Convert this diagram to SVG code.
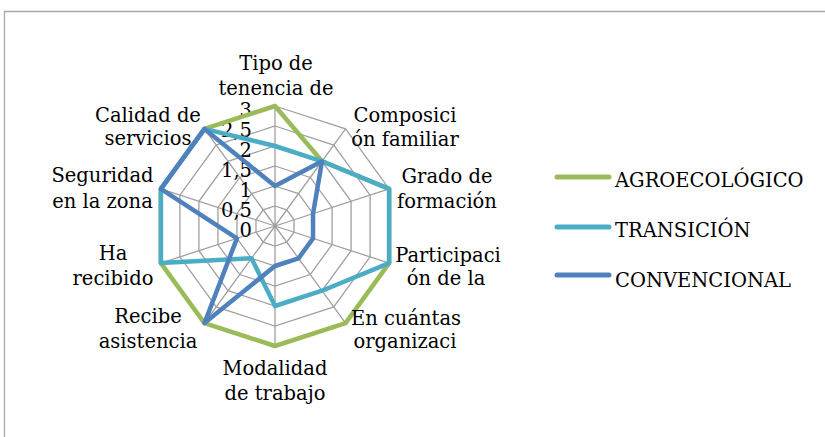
<svg xmlns="http://www.w3.org/2000/svg" width="825" height="437" viewBox="0 0 825 437">
  <style>
    text { font-family: "DejaVu Serif", "Liberation Serif", serif; font-size: 19.5px; fill: #000; }
    .lbl { text-anchor: middle; }
    .tick { text-anchor: end; }
    .grid { fill: none; stroke: #A0A0A0; stroke-width: 1.3; }
    .series { fill: none; stroke-width: 4.5; stroke-linejoin: round; }
    .agro { stroke: #9BBB59; }
    .trans { stroke: #4BACC6; }
    .conv { stroke: #4F81BD; }
    .leg { stroke-width: 5; stroke-linecap: round; }
  </style>
  <rect width="825" height="437" fill="#fff"/>
  <path d="M4.5,437 V11.5 H825" fill="none" stroke="#A6A6A6" stroke-width="1.3"/>

  <g id="grid" class="grid">
    <polygon points="275,206 286.76,209.82 294.02,219.82 294.02,232.18 286.76,242.18 275,246 263.24,242.18 255.98,232.18 255.98,219.82 263.24,209.82"/>
    <polygon points="275,186 298.51,193.64 313.04,213.64 313.04,238.36 298.51,258.36 275,266 251.49,258.36 236.96,238.36 236.96,213.64 251.49,193.64"/>
    <polygon points="275,166 310.27,177.46 332.07,207.46 332.07,244.54 310.27,274.54 275,286 239.73,274.54 217.93,244.54 217.93,207.46 239.73,177.46"/>
    <polygon points="275,146 322.02,161.28 351.09,201.28 351.09,250.72 322.02,290.72 275,306 227.98,290.72 198.91,250.72 198.91,201.28 227.98,161.28"/>
    <polygon points="275,126 333.78,145.1 370.11,195.1 370.11,256.9 333.78,306.9 275,326 216.22,306.9 179.89,256.9 179.89,195.1 216.22,145.1"/>
    <polygon points="275,106 345.53,128.92 389.13,188.92 389.13,263.08 345.53,323.08 275,346 204.47,323.08 160.87,263.08 160.87,188.92 204.47,128.92"/>
    <path d="M275,226 L275,106 M275,226 L345.53,128.92 M275,226 L389.13,188.92 M275,226 L389.13,263.08 M275,226 L345.53,323.08 M275,226 L275,346 M275,226 L204.47,323.08 M275,226 L160.87,263.08 M275,226 L160.87,188.92 M275,226 L204.47,128.92"/>
  </g>

  <g id="ticks">
    <text class="tick" x="252" y="117">3</text>
    <text class="tick" x="252" y="137">2,5</text>
    <text class="tick" x="252" y="157">2</text>
    <text class="tick" x="252" y="177">1,5</text>
    <text class="tick" x="252" y="197">1</text>
    <text class="tick" x="252" y="217">0,5</text>
    <text class="tick" x="252" y="237">0</text>
  </g>

  <g id="series">
    <polygon id="s-agro" class="series agro" points="275,106 322.02,161.28 389.13,188.92 389.13,263.08 345.53,323.08 275,346 204.47,323.08 160.87,263.08 160.87,188.92 204.47,128.92"/>
    <polygon id="s-trans" class="series trans" points="275,146 322.02,161.28 389.13,188.92 389.13,263.08 322.02,290.72 275,306 251.49,258.36 160.87,263.08 160.87,188.92 204.47,128.92"/>
    <polygon id="s-conv" class="series conv" points="275,186 322.02,161.28 313.04,213.64 313.04,238.36 298.51,258.36 275,266 204.47,323.08 236.96,238.36 160.87,188.92 204.47,128.92"/>
  </g>

  <g id="axis-tipo"><text class="lbl" x="276" y="70">Tipo de</text><text class="lbl" x="276" y="95">tenencia de</text></g>
  <g id="axis-composicion"><text class="lbl" x="405" y="122">Composici</text><text class="lbl" x="405" y="146">ón familiar</text></g>
  <g id="axis-grado"><text class="lbl" x="447" y="183">Grado de</text><text class="lbl" x="447" y="208">formación</text></g>
  <g id="axis-participacion"><text class="lbl" x="448" y="262">Participaci</text><text class="lbl" x="446" y="285">ón de la</text></g>
  <g id="axis-organizaciones"><text class="lbl" x="406" y="325">En cuántas</text><text class="lbl" x="405" y="348">organizaci</text></g>
  <g id="axis-modalidad"><text class="lbl" x="275" y="375">Modalidad</text><text class="lbl" x="275" y="400">de trabajo</text></g>
  <g id="axis-asistencia"><text class="lbl" x="148" y="323">Recibe</text><text class="lbl" x="148" y="348">asistencia</text></g>
  <g id="axis-recibido"><text class="lbl" x="113" y="260">Ha</text><text class="lbl" x="113" y="285">recibido</text></g>
  <g id="axis-seguridad"><text class="lbl" x="102.5" y="182">Seguridad</text><text class="lbl" x="102.5" y="208">en la zona</text></g>
  <g id="axis-calidad"><text class="lbl" x="148" y="122">Calidad de</text><text class="lbl" x="148" y="145">servicios</text></g>

  <g id="legend">
    <g id="legend-agro"><line class="leg agro" x1="557" y1="177" x2="609" y2="177"/><text x="615" y="187">AGROECOLÓGICO</text></g>
    <g id="legend-trans"><line class="leg trans" x1="557" y1="227" x2="609" y2="227"/><text x="615" y="237">TRANSICIÓN</text></g>
    <g id="legend-conv"><line class="leg conv" x1="557" y1="275" x2="609" y2="275"/><text x="615" y="287">CONVENCIONAL</text></g>
  </g>
</svg>
